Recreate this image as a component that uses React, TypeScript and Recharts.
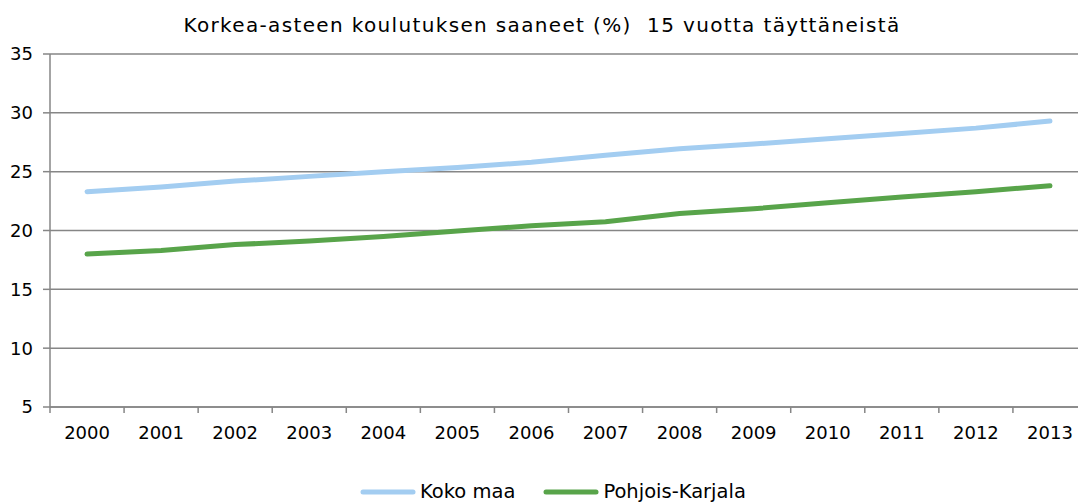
import React from 'react';
import { LineChart, Line, XAxis, YAxis, CartesianGrid, Legend } from 'recharts';

const years = ['2000', '2001', '2002', '2003', '2004', '2005', '2006', '2007', '2008', '2009', '2010', '2011', '2012', '2013'];
const kokoMaa = [23.3, 23.7, 24.2, 24.6, 25.0, 25.35, 25.8, 26.4, 26.95, 27.35, 27.8, 28.25, 28.7, 29.3];
const pohjoisKarjala = [18.0, 18.3, 18.8, 19.1, 19.5, 19.95, 20.4, 20.75, 21.45, 21.85, 22.35, 22.85, 23.3, 23.8];
const yTicks = [5, 10, 15, 20, 25, 30, 35];
const title = 'Korkea-asteen koulutuksen saaneet (%)  15 vuotta täyttäneistä';

const seriesNames = ['Koko maa', 'Pohjois-Karjala'];
const seriesColors = ['#a3cdf1', '#58a44a'];

const data = years.map((y, i) => ({ i, year: y, koko: kokoMaa[i], pk: pohjoisKarjala[i] }));
const xTicks: number[] = [];
for (let k = 0; k <= years.length * 2; k++) xTicks.push(k / 2 - 0.5);

const AXIS = '#868686';
const FONT = '"DejaVu Sans", Verdana, sans-serif';

const XTick = (props: any) => {
  const { x, y, payload } = props;
  const v = payload.value as number;
  if (Number.isInteger(v)) {
    return (
      <text x={x} y={y + 32} textAnchor="middle" fontSize={18} fontFamily={FONT} fill="#000">
        {years[v]}
      </text>
    );
  }
  return <line x1={x} y1={y} x2={x} y2={y + 6} stroke={AXIS} strokeWidth={1.5} />;
};

const renderLegend = () => (
  <div style={{ display: 'flex', alignItems: 'center', fontFamily: FONT, fontSize: 19.5, color: '#000', whiteSpace: 'nowrap' }}>
    {seriesNames.map((n, k) => (
      <div key={n} style={{ display: 'flex', alignItems: 'center', marginRight: k === 0 ? 28 : 0 }}>
        <svg width={56} height={8} style={{ marginRight: 4 }}>
          <line x1={3} y1={4} x2={53} y2={4} stroke={seriesColors[k]} strokeWidth={5} strokeLinecap="round" />
        </svg>
        <span>{n}</span>
      </div>
    ))}
  </div>
);

export default function App() {
  return (
    <div style={{ position: 'absolute', left: 0, top: 0, width: 1078, height: 502, overflow: 'hidden', background: '#fff' }}>
      <div
        style={{
          position: 'absolute',
          left: 0,
          top: 13,
          width: 1084,
          textAlign: 'center',
          fontFamily: FONT,
          fontSize: 20,
          lineHeight: '24px',
          letterSpacing: '1.35px',
          color: '#000',
          whiteSpace: 'pre',
        }}
      >
        {title}
      </div>
      <LineChart width={1100} height={502} data={data} margin={{ top: 54, right: 13, left: 0, bottom: 0 }}>
        <CartesianGrid vertical={false} stroke={AXIS} strokeWidth={1.5} />
        <XAxis
          type="number"
          dataKey="i"
          domain={[-0.5, 13.5]}
          ticks={xTicks}
          interval={0}
          tickLine={false}
          tickSize={0}
          tickMargin={0}
          height={95}
          axisLine={{ stroke: AXIS, strokeWidth: 1.5 }}
          tick={<XTick />}
        />
        <YAxis
          domain={[5, 35]}
          ticks={yTicks}
          interval={0}
          width={50}
          tickSize={7}
          tickMargin={10}
          axisLine={{ stroke: AXIS, strokeWidth: 1.5 }}
          tickLine={{ stroke: AXIS, strokeWidth: 1.5 }}
          tick={{ fill: '#000', fontSize: 18, fontFamily: FONT }}
        />
        <Line dataKey="koko" name={seriesNames[0]} stroke={seriesColors[0]} strokeWidth={5} dot={false} strokeLinecap="round" isAnimationActive={false} />
        <Line dataKey="pk" name={seriesNames[1]} stroke={seriesColors[1]} strokeWidth={5} dot={false} strokeLinecap="round" isAnimationActive={false} />
        <Legend verticalAlign="middle" align="center" wrapperStyle={{ top: 480, left: 360, width: 'auto' }} content={renderLegend} />
      </LineChart>
    </div>
  );
}
